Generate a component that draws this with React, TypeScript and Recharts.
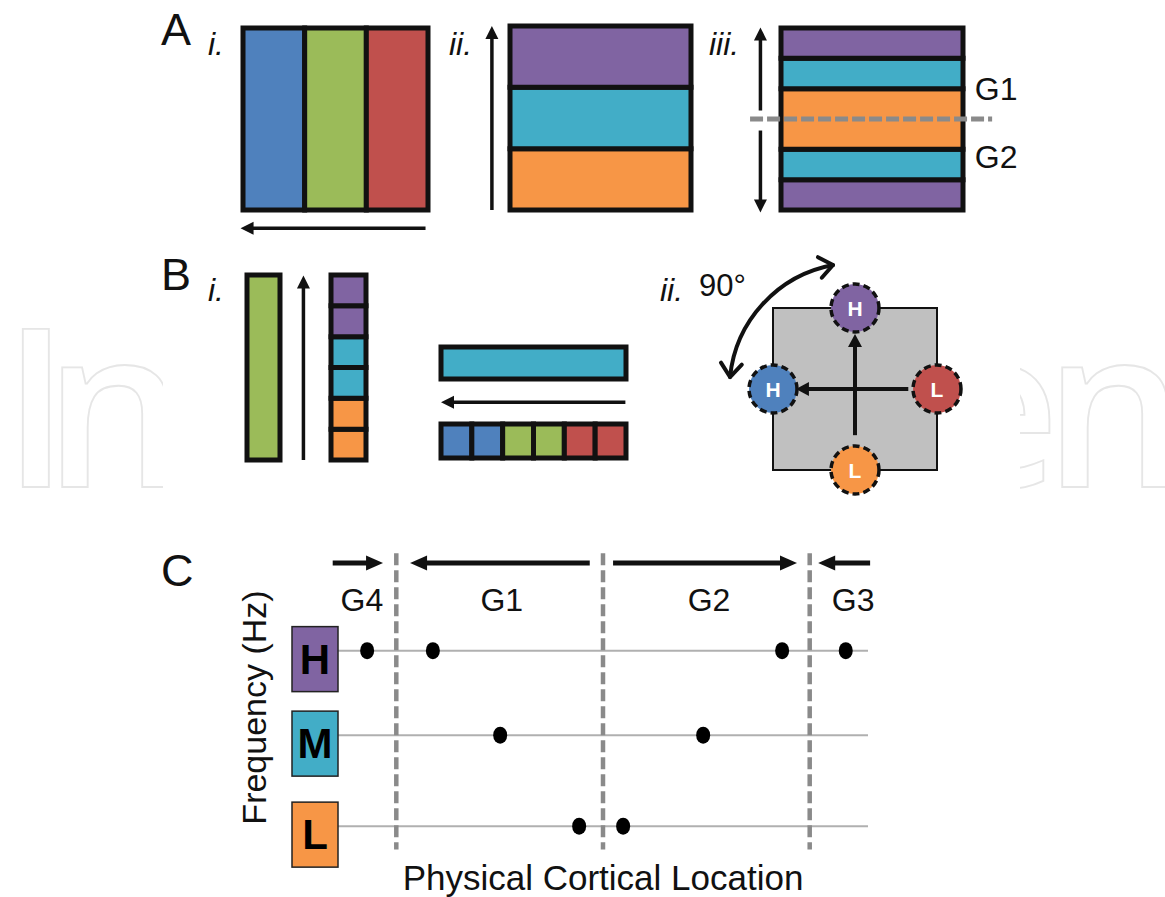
import React from 'react';
import {
  ComposedChart,
  XAxis,
  YAxis,
  ReferenceArea,
  ReferenceLine,
  ReferenceDot,
  Scatter,
  Label
} from 'recharts';

const FONT = '"Liberation Sans", Arial, Helvetica, sans-serif';
const INK = '#111111';
const PAD = 70;

const COLORS: Record<string, string> = {
  blue: '#4f81bd',
  green: '#9bbb59',
  red: '#c0504d',
  purple: '#8064a2',
  cyan: '#42adc7',
  orange: '#f79646'
};

// A i. tonotopic gradient, left to right
const aTonotopy = ['blue', 'green', 'red'];
// A ii. periodotopic gradient, bottom to top
const aPeriodotopy = ['orange', 'cyan', 'purple'];
// A iii. mirrored gradient, bottom to top
const aMirrorColors = ['purple', 'cyan', 'orange', 'cyan', 'purple'];
const aMirrorHeights = [1, 1, 2, 1, 1];
const aMirrorLabels = [
  { text: 'G1', y: 3.62 },
  { text: 'G2', y: 1.4 }
];

// B i.
const bColumnColors = ['orange', 'orange', 'cyan', 'cyan', 'purple', 'purple'];
const bRowColors = ['blue', 'blue', 'green', 'green', 'red', 'red'];
// B ii. orientation map poles
const bPoles = [
  { x: 0, y: 1, label: 'H', color: 'purple' },
  { x: -1, y: 0, label: 'H', color: 'blue' },
  { x: 1, y: 0, label: 'L', color: 'red' },
  { x: 0, y: -1, label: 'L', color: 'orange' }
];

// C frequency rows and recording sites along the cortex (0-100)
const cRows = ['H', 'M', 'L'];
const cRowLevel = [67.5, 41.5, 13.5];
const cRowColors = ['purple', 'cyan', 'orange'];
const cBoundaries = [11, 50, 89];
const cGradients = [
  { label: 'G4', at: 4.5, from: -1, to: 8.5 },
  { label: 'G1', at: 30.9, from: 47.5, to: 13.6 },
  { label: 'G2', at: 70, from: 51.9, to: 86.6 },
  { label: 'G3', at: 97.2, from: 100.4, to: 90.6 }
];
const cSitesH = [5.5, 17.9, 83.8, 95.8];
const cSitesM = [30.6, 68.9];
const cSitesL = [45.5, 53.8];

const cDots = [
  ...cSitesH.map(x => ({ x, y: cRowLevel[0] })),
  ...cSitesM.map(x => ({ x, y: cRowLevel[1] })),
  ...cSitesL.map(x => ({ x, y: cRowLevel[2] }))
];

const arrowShape = (width: number, head: number, half: number, color = INK) => (p: any) => {
  const { x1, y1, x2, y2 } = p;
  const dx = x2 - x1;
  const dy = y2 - y1;
  const len = Math.hypot(dx, dy) || 1;
  const ux = dx / len;
  const uy = dy / len;
  const bx = x2 - ux * head;
  const by = y2 - uy * head;
  return (
    <g>
      <line x1={x1} y1={y1} x2={bx + ux} y2={by + uy} stroke={color} strokeWidth={width} />
      <polygon
        points={`${x2},${y2} ${bx - uy * half},${by + ux * half} ${bx + uy * half},${by - ux * half}`}
        fill={color}
      />
    </g>
  );
};

// curved double arrow, radius in px, bulging away from the map centre
const arcArrow = (r: number) => (p: any) => {
  const { x1, y1, x2, y2 } = p;
  const mx = (x1 + x2) / 2;
  const my = (y1 + y2) / 2;
  const vx = x2 - x1;
  const vy = y2 - y1;
  const chord = Math.hypot(vx, vy) || 1;
  const d = Math.sqrt(Math.max(r * r - (chord * chord) / 4, 0));
  const nx = -vy / chord;
  const ny = vx / chord;
  let cx = mx + nx * d;
  let cy = my + ny * d;
  if (mx - nx * d + my - ny * d > cx + cy) {
    cx = mx - nx * d;
    cy = my - ny * d;
  }
  const chevron = (px: number, py: number, tx: number, ty: number) => {
    const bx = -tx;
    const by = -ty;
    const a = (38 * Math.PI) / 180;
    const L = 17;
    const r1x = bx * Math.cos(a) - by * Math.sin(a);
    const r1y = bx * Math.sin(a) + by * Math.cos(a);
    const r2x = bx * Math.cos(-a) - by * Math.sin(-a);
    const r2y = bx * Math.sin(-a) + by * Math.cos(-a);
    return `M ${px + r1x * L} ${py + r1y * L} L ${px} ${py} L ${px + r2x * L} ${py + r2y * L}`;
  };
  const v1x = x1 - cx;
  const v1y = y1 - cy;
  const n1 = Math.hypot(v1x, v1y);
  const v2x = x2 - cx;
  const v2y = y2 - cy;
  const n2 = Math.hypot(v2x, v2y);
  return (
    <g fill="none" stroke={INK} strokeWidth={4} strokeLinecap="round" strokeLinejoin="round">
      <path d={`M ${x1} ${y1} A ${r} ${r} 0 0 0 ${x2} ${y2}`} />
      <path d={chevron(x1, y1, -v1y / n1, v1x / n1)} />
      <path d={chevron(x2, y2, v2y / n2, -v2x / n2)} />
    </g>
  );
};

const textShape = (text: string, size: number, anchor = 'start', color = INK, weight = 'normal') => (p: any) => (
  <text
    x={p.cx}
    y={p.cy}
    textAnchor={anchor}
    fontFamily={FONT}
    fontSize={size}
    fontWeight={weight}
    fill={color}
  >
    {text}
  </text>
);

const Sketch: React.FC<any> = ({ left, top, width, height, xDomain, yDomain, data, clip = true, children }) => (
  <div style={{ position: 'absolute', left: left - PAD, top: top - PAD }}>
    <ComposedChart
      width={width + 2 * PAD}
      height={height + 2 * PAD}
      margin={{ top: PAD, right: PAD, bottom: PAD, left: PAD }}
      data={data || []}
    >
      <XAxis type="number" dataKey="x" domain={xDomain} allowDataOverflow={clip} hide />
      <YAxis type="number" dataKey="y" domain={yDomain} allowDataOverflow={clip} hide />
      {children}
    </ComposedChart>
  </div>
);

const cell = (key: string, x1: number, x2: number, y1: number, y2: number, color: string) => (
  <ReferenceArea
    key={key}
    x1={x1}
    x2={x2}
    y1={y1}
    y2={y2}
    fill={COLORS[color]}
    fillOpacity={1}
    stroke={INK}
    strokeWidth={5}
    ifOverflow="visible"
  />
);

const RowTick = (props: any) => {
  const { x, y, payload } = props;
  const i = cRowLevel.indexOf(payload.value);
  if (i < 0) return null;
  return (
    <g>
      <rect
        x={x - 46}
        y={y - 24}
        width={46}
        height={65}
        fill={COLORS[cRowColors[i]]}
        stroke="#222"
        strokeWidth={1.5}
      />
      <text
        x={x - 23}
        y={y + 23}
        textAnchor="middle"
        fontFamily={FONT}
        fontWeight="bold"
        fontSize={42}
        fill="#000"
      >
        {cRows[i]}
      </text>
    </g>
  );
};

const PoleDot = (props: any) => {
  const { cx, cy, payload } = props;
  return (
    <g>
      <circle
        cx={cx}
        cy={cy}
        r={24}
        fill={COLORS[payload.color]}
        stroke={INK}
        strokeWidth={3.5}
        strokeDasharray="7 4"
      />
      <text
        x={cx}
        y={cy + 7.5}
        textAnchor="middle"
        fontFamily={FONT}
        fontWeight="bold"
        fontSize={21}
        fill="#fff"
      >
        {payload.label}
      </text>
    </g>
  );
};

const mirrorBounds = aMirrorHeights.reduce<number[]>(
  (acc, h) => [...acc, acc[acc.length - 1] + h],
  [0]
);

const App: React.FC = () => {
  return (
    <div
      style={{
        position: 'absolute',
        left: 0,
        top: 0,
        width: 1165,
        height: 897,
        overflow: 'hidden',
        background: '#fff',
        fontFamily: FONT
      }}
    >
      <style>{'.recharts-surface{overflow:visible}'}</style>

      {/* background watermark, only its outer letters show round the figure */}
      <svg width={1165} height={897} style={{ position: 'absolute', left: 0, top: 0 }}>
        <g
          fontFamily='"Open Sans", sans-serif'
          fontWeight={600}
          fontSize={222}
          fill="#fff"
          stroke="#e6e6e6"
          strokeWidth={1.8}
        >
          <text x="2 44" y={487}>In</text>
          <text x="932 1044" y={487}>en</text>
        </g>
      </svg>
      <div style={{ position: 'absolute', left: 163, top: 0, width: 857, height: 897, background: '#fff' }} />

      {/* A i. */}
      <Sketch left={242.5} top={27.5} width={185} height={182} xDomain={[0, 3]} yDomain={[0, 1]}>
        {aTonotopy.map((c, i) => cell(`ai${i}`, i, i + 1, 0, 1, c))}
        <ReferenceLine
          segment={[{ x: 2.96, y: -0.1 }, { x: -0.04, y: -0.1 }]}
          shape={arrowShape(3.5, 13, 6.5)}
          ifOverflow="visible"
        />
      </Sketch>

      {/* A ii. */}
      <Sketch left={509.5} top={25.5} width={181} height={184} xDomain={[0, 1]} yDomain={[0, 3]}>
        {aPeriodotopy.map((c, i) => cell(`aii${i}`, 0, 1, i, i + 1, c))}
        <ReferenceLine
          segment={[{ x: -0.1, y: 0 }, { x: -0.1, y: 3 }]}
          shape={arrowShape(3.5, 13, 6.5)}
          ifOverflow="visible"
        />
      </Sketch>

      {/* A iii. */}
      <Sketch left={780.5} top={27.5} width={182} height={182} xDomain={[0, 1]} yDomain={[0, 6]}>
        {aMirrorColors.map((c, i) => cell(`aiii${i}`, 0, 1, mirrorBounds[i], mirrorBounds[i + 1], c))}
        <ReferenceLine
          segment={[{ x: -0.17, y: 3 }, { x: 1.16, y: 3 }]}
          stroke="#8a8a8a"
          strokeWidth={5}
          strokeDasharray="13 4"
          ifOverflow="visible"
        />
        <ReferenceLine
          segment={[{ x: -0.113, y: 3.28 }, { x: -0.113, y: 6.02 }]}
          shape={arrowShape(3.5, 13, 6.5)}
          ifOverflow="visible"
        />
        <ReferenceLine
          segment={[{ x: -0.113, y: 2.62 }, { x: -0.113, y: -0.08 }]}
          shape={arrowShape(3.5, 13, 6.5)}
          ifOverflow="visible"
        />
        {aMirrorLabels.map(l => (
          <ReferenceDot key={l.text} x={1.065} y={l.y} r={0} ifOverflow="visible" shape={textShape(l.text, 32)} />
        ))}
      </Sketch>

      {/* B i. spectral bar and periodicity column */}
      <Sketch left={246.5} top={274.5} width={33} height={185} xDomain={[0, 1]} yDomain={[0, 6]}>
        {cell('bgreen', 0, 1, 0, 6, 'green')}
        <ReferenceLine
          segment={[{ x: 1.71, y: 0 }, { x: 1.71, y: 5.98 }]}
          shape={arrowShape(3.5, 13, 6.5)}
          ifOverflow="visible"
        />
      </Sketch>
      <Sketch left={330.5} top={274.5} width={35} height={185} xDomain={[0, 1]} yDomain={[0, 6]}>
        {bColumnColors.map((c, i) => cell(`bcol${i}`, 0, 1, i, i + 1, c))}
      </Sketch>
      <Sketch left={440.5} top={346.5} width={185} height={32} xDomain={[0, 6]} yDomain={[0, 1]}>
        {cell('bcyan', 0, 6, 0, 1, 'cyan')}
        <ReferenceLine
          segment={[{ x: 5.98, y: -0.73 }, { x: 0, y: -0.73 }]}
          shape={arrowShape(3.5, 13, 6.5)}
          ifOverflow="visible"
        />
      </Sketch>
      <Sketch left={440.5} top={423.5} width={185} height={34} xDomain={[0, 6]} yDomain={[0, 1]}>
        {bRowColors.map((c, i) => cell(`brow${i}`, i, i + 1, 0, 1, c))}
      </Sketch>

      {/* B ii. orientation map */}
      <Sketch
        left={773}
        top={308}
        width={164}
        height={162}
        xDomain={[-1, 1]}
        yDomain={[-1, 1]}
        data={bPoles}
        clip={false}
      >
        <ReferenceArea
          x1={-1}
          x2={1}
          y1={-1}
          y2={1}
          fill="#c0c0c0"
          fillOpacity={1}
          stroke={INK}
          strokeWidth={2}
          ifOverflow="visible"
        />
        <ReferenceLine
          segment={[{ x: 0, y: -0.57 }, { x: 0, y: 0.68 }]}
          shape={arrowShape(4, 13, 7)}
          ifOverflow="visible"
        />
        <ReferenceLine
          segment={[{ x: 0.65, y: 0 }, { x: -0.72, y: 0 }]}
          shape={arrowShape(4, 13, 7)}
          ifOverflow="visible"
        />
        <ReferenceLine
          segment={[{ x: -0.268, y: 1.531 }, { x: -1.524, y: 0.148 }]}
          shape={arcArrow(127)}
          ifOverflow="visible"
        />
        <Scatter data={bPoles} dataKey="y" shape={<PoleDot />} isAnimationActive={false} />
      </Sketch>

      {/* C */}
      <div style={{ position: 'absolute', left: 220, top: 530 }}>
        <ComposedChart
          width={678}
          height={367}
          margin={{ top: 15, right: 30, bottom: 0, left: 0 }}
          data={cDots}
        >
          <XAxis
            type="number"
            dataKey="x"
            domain={[0, 100]}
            height={27}
            tick={false}
            tickLine={false}
            axisLine={false}
          >
            <Label
              content={(p: any) => (
                <text
                  x={p.viewBox.x + p.viewBox.width / 2}
                  y={p.viewBox.y + 20}
                  textAnchor="middle"
                  fontFamily={FONT}
                  fontSize={35}
                  fill={INK}
                >
                  Physical Cortical Location
                </text>
              )}
            />
          </XAxis>
          <YAxis
            type="number"
            dataKey="y"
            domain={[0, 100]}
            width={118}
            ticks={cRowLevel}
            interval={0}
            tick={RowTick}
            tickLine={false}
            axisLine={false}
            tickSize={0}
            tickMargin={0}
          >
            <Label
              content={(p: any) => {
                const x = p.viewBox.x + 46;
                const y = p.viewBox.y + p.viewBox.height / 2;
                return (
                  <text
                    x={x}
                    y={y}
                    transform={`rotate(-90 ${x} ${y})`}
                    textAnchor="middle"
                    fontFamily={FONT}
                    fontSize={34}
                    fill={INK}
                  >
                    Frequency (Hz)
                  </text>
                );
              }}
            />
          </YAxis>
          {cRowLevel.map(y => (
            <ReferenceLine key={`row${y}`} y={y} stroke="#b0b0b0" strokeWidth={2} />
          ))}
          {cBoundaries.map(x => (
            <ReferenceLine
              key={`bd${x}`}
              segment={[{ x, y: 97.5 }, { x, y: 6.3 }]}
              stroke="#8a8a8a"
              strokeWidth={4.5}
              strokeDasharray="12 5"
              ifOverflow="visible"
            />
          ))}
          {cGradients.map(g => (
            <ReferenceLine
              key={`ar${g.label}`}
              segment={[{ x: g.from, y: 94.5 }, { x: g.to, y: 94.5 }]}
              shape={arrowShape(5, 17, 7.5)}
              ifOverflow="visible"
            />
          ))}
          {cGradients.map(g => (
            <ReferenceDot
              key={`lb${g.label}`}
              x={g.at}
              y={79.7}
              r={0}
              ifOverflow="visible"
              shape={textShape(g.label, 32, 'middle')}
            />
          ))}
          <Scatter
            data={cDots}
            dataKey="y"
            isAnimationActive={false}
            shape={(p: any) => <ellipse cx={p.cx} cy={p.cy} rx={7} ry={8.5} fill="#000" />}
          />
        </ComposedChart>
      </div>

      {/* panel letters and numerals */}
      <svg
        width={1165}
        height={897}
        style={{ position: 'absolute', left: 0, top: 0, pointerEvents: 'none' }}
        fontFamily={FONT}
        fill={INK}
      >
        <text x={161} y={45} fontSize={45}>A</text>
        <text x={208} y={55} fontSize={32} fontStyle="italic">i.</text>
        <text x={449} y={55} fontSize={32} fontStyle="italic">ii.</text>
        <text x={709} y={55} fontSize={32} fontStyle="italic">iii.</text>
        <text x={161} y={290} fontSize={45}>B</text>
        <text x={208} y={301} fontSize={32} fontStyle="italic">i.</text>
        <text x={660} y={301} fontSize={32} fontStyle="italic">ii.</text>
        <text x={699} y={296} fontSize={31}>90°</text>
        <text x={161} y={586} fontSize={45}>C</text>
      </svg>
    </div>
  );
};

export default App;
